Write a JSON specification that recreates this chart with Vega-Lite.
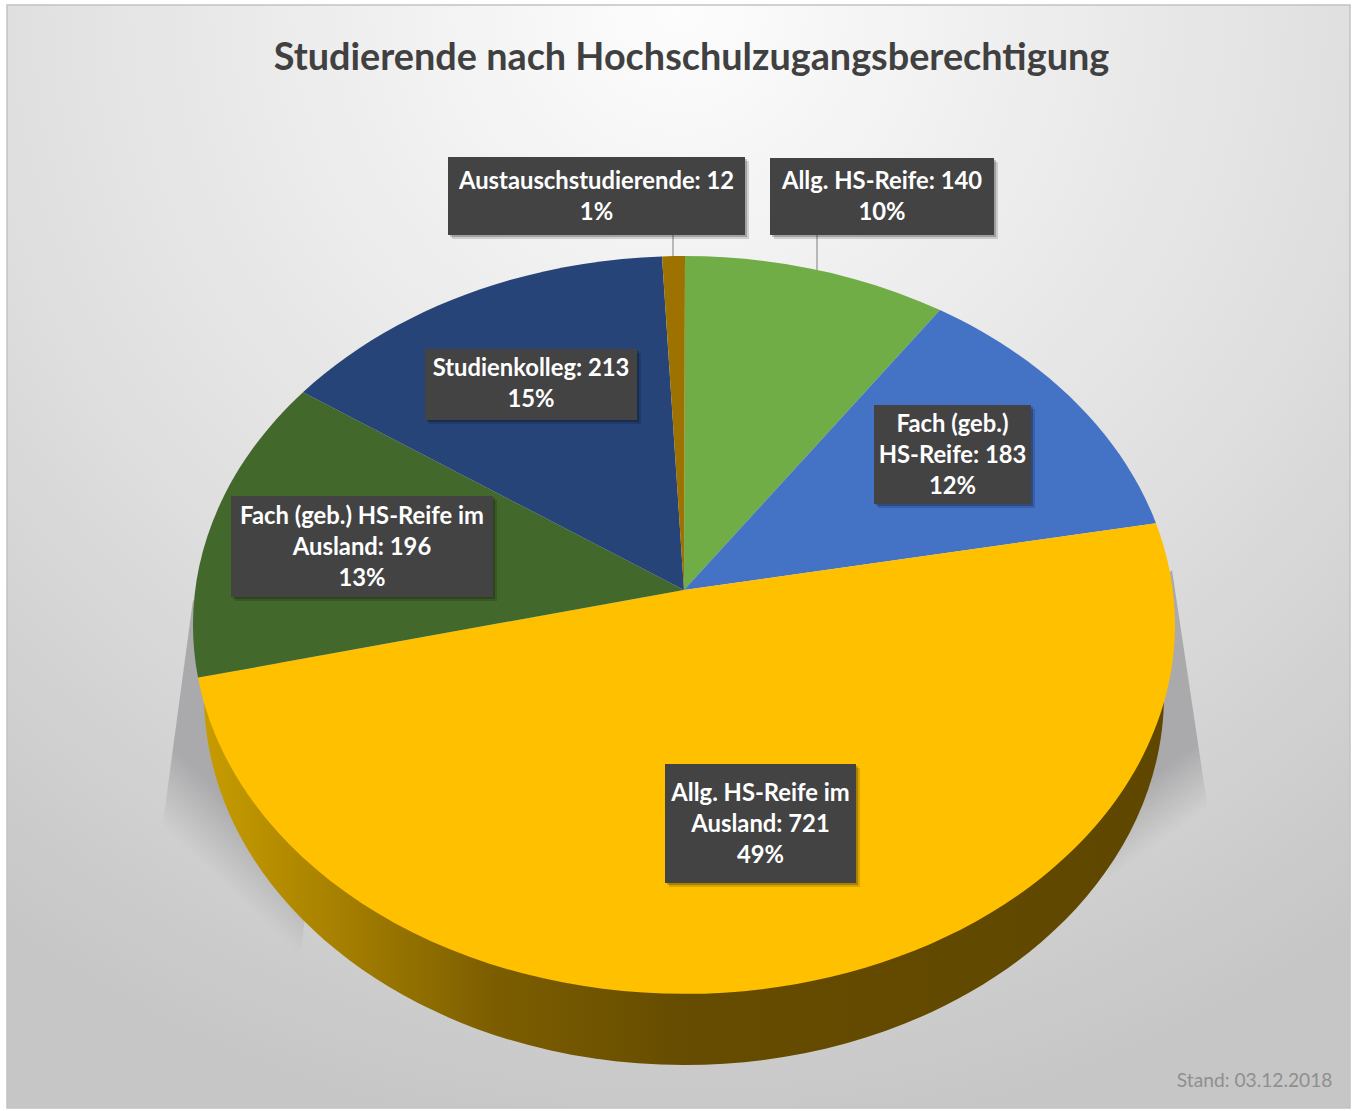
{
"$schema":"https://vega.github.io/schema/vega-lite/v6.json",
"autosize":{"type":"none"},"padding":0,"width":1357,"height":1111,"background":"#ffffff",
"config":{"view":{"stroke":null}},
"title":{"text":"Studierende nach Hochschulzugangsberechtigung","font":"Lato","fontWeight":"bold","fontSize":37.8,"color":"#404040","anchor":"middle","dx":13,"offset":-78},
"datasets":{"slices":[
{"category":"Allg. HS-Reife","value":140,"percent":"10%","text":"Allg. HS-Reife: 140\n10%"},
{"category":"Fach (geb.) HS-Reife","value":183,"percent":"12%","text":"Fach (geb.)\nHS-Reife: 183\n12%"},
{"category":"Allg. HS-Reife im Ausland","value":721,"percent":"49%","text":"Allg. HS-Reife im\nAusland: 721\n49%"},
{"category":"Fach (geb.) HS-Reife im Ausland","value":196,"percent":"13%","text":"Fach (geb.) HS-Reife im\nAusland: 196\n13%"},
{"category":"Studienkolleg","value":213,"percent":"15%","text":"Studienkolleg: 213\n15%"},
{"category":"Austauschstudierende","value":12,"percent":"1%","text":"Austauschstudierende: 12\n1%"}
]},
"data":{"name":"slices"},
"resolve":{"scale":{"shape":"independent","y":"independent"}},
"layer":[
{"data":{"values":[{"part":"background"}]},
 "mark":{"type":"point","filled":true,"size":4,"opacity":1,"stroke":"#c2c2c2","strokeWidth":1.5,"shape":"M-671.5 -550.5 L671.5 -550.5 L671.5 552.5 L-671.5 552.5 Z",
 "fill":{"gradient":"radial","x1":0.5,"y1":0.09,"r1":0,"x2":0.5,"y2":0.09,"r2":0.85,"stops":[{"offset":0,"color":"#fdfdfd"},{"offset":0.58,"color":"#e0e0e0"},{"offset":1,"color":"#c6c6c6"}]}}},
{"data":{"values":[{"part":"shadow left"}]},
 "mark":{"type":"point","filled":true,"size":4,"opacity":1,"shape":"M-485.5 44.5 L-516.5 274.5 L-378.5 404.5 L-348.5 144.5 Z",
 "fill":{"gradient":"linear","x1":0.5,"y1":0.3,"x2":0.3,"y2":0.76,"stops":[{"offset":0,"color":"rgba(170,170,172,1)"},{"offset":0.55,"color":"rgba(170,170,172,1)"},{"offset":1,"color":"rgba(170,170,172,0)"}]}}},
{"data":{"values":[{"part":"shadow right"}]},
 "mark":{"type":"point","filled":true,"size":4,"opacity":1,"shape":"M493.5 14.5 L529.5 254.5 L529.5 304.5 L431.5 404.5 L421.5 94.5 Z",
 "fill":{"gradient":"linear","x1":0.5,"y1":0.3,"x2":0.578,"y2":0.694,"stops":[{"offset":0,"color":"rgba(170,170,172,1)"},{"offset":0.55,"color":"rgba(170,170,172,1)"},{"offset":1,"color":"rgba(170,170,172,0)"}]}}},
{"data":{"values":[{"part":"side"}]},
 "mark":{"type":"point","filled":true,"size":4,"opacity":1,"shape":"M-474.5 139.5 A480 370 0 0 0 485.5 139.5 Z",
 "fill":{"gradient":"linear","x1":0,"y1":0,"x2":1,"y2":0,"stops":[{"offset":0,"color":"#c79c00"},{"offset":0.1,"color":"#b08800"},{"offset":0.3,"color":"#7c5e00"},{"offset":0.5,"color":"#664c00"},{"offset":1,"color":"#5f4700"}]}}},
{"mark":{"type":"point","filled":true,"size":4,"opacity":1},
 "encoding":{
 "color":{"field":"category","type":"nominal","legend":null,"scale":{"domain":["Allg. HS-Reife","Fach (geb.) HS-Reife","Allg. HS-Reife im Ausland","Fach (geb.) HS-Reife im Ausland","Studienkolleg","Austauschstudierende"],"range":["#70ad47","#4472c4","#ffc000","#43682b","#264478","#9e7200"]}},
 "shape":{"field":"category","type":"nominal","legend":null,"scale":{"domain":["Allg. HS-Reife","Fach (geb.) HS-Reife","Allg. HS-Reife im Ausland","Fach (geb.) HS-Reife im Ausland","Studienkolleg","Austauschstudierende"],"range":[
 "M5.5 34.5 L6.5 -299.5 A491 369 0 0 1 261.5 -245.4 Z",
 "M5.5 34.5 L261.5 -245.4 A491 369 0 0 1 477.5 -32.2 Z",
 "M5.5 34.5 L477.5 -32.2 A491 369 0 1 1 -480.5 122.1 Z",
 "M5.5 34.5 L-480.5 122.1 A491 369 0 0 1 -375.5 -163.3 Z",
 "M5.5 34.5 L-375.5 -163.3 A491 369 0 0 1 -16.5 -299.1 Z",
 "M5.5 34.5 L-16.5 -299.1 A491 369 0 0 1 6.5 -299.5 Z"]}}}},
{"data":{"values":[{"part":"leader lines"}]},
 "mark":{"type":"point","filled":true,"size":4,"opacity":1,"fill":"#7f7f7f","shape":"M-6 -320.5 L-5 -320.5 L-5 -299.5 L-6 -299.5 Z M138 -320.5 L139 -320.5 L139 -285.5 L138 -285.5 Z"}},
{"mark":{"type":"point","filled":true,"size":4,"fill":"#000000","opacity":0.14,"xOffset":4,"yOffset":4},
 "encoding":{
 "x":{"field":"value","type":"quantitative","axis":null,"scale":{"domain":[12,140,183,196,213,721],"range":[596.5,882,952.5,362,531,760.5],"zero":false,"nice":false}},
 "y":{"field":"value","type":"quantitative","axis":null,"scale":{"domain":[12,140,183,196,213,721],"range":[196,196.5,454.5,546.5,384.5,823.5],"zero":false,"nice":false}},
 "shape":{"field":"category","type":"nominal","legend":null,"scale":{"domain":["Allg. HS-Reife","Fach (geb.) HS-Reife","Allg. HS-Reife im Ausland","Fach (geb.) HS-Reife im Ausland","Studienkolleg","Austauschstudierende"],"range":[
 "M-112 -38.5 L112 -38.5 L112 38.5 L-112 38.5 Z","M-78.5 -49.5 L78.5 -49.5 L78.5 49.5 L-78.5 49.5 Z","M-95.5 -59.5 L95.5 -59.5 L95.5 59.5 L-95.5 59.5 Z","M-131 -50.5 L131 -50.5 L131 50.5 L-131 50.5 Z","M-106 -35.5 L106 -35.5 L106 35.5 L-106 35.5 Z","M-148.5 -39 L148.5 -39 L148.5 39 L-148.5 39 Z"]}}}},
{"mark":{"type":"point","filled":true,"size":4,"fill":"#000000","opacity":0.22,"xOffset":2,"yOffset":2},
 "encoding":{
 "x":{"field":"value","type":"quantitative","axis":null,"scale":{"domain":[12,140,183,196,213,721],"range":[596.5,882,952.5,362,531,760.5],"zero":false,"nice":false}},
 "y":{"field":"value","type":"quantitative","axis":null,"scale":{"domain":[12,140,183,196,213,721],"range":[196,196.5,454.5,546.5,384.5,823.5],"zero":false,"nice":false}},
 "shape":{"field":"category","type":"nominal","legend":null,"scale":{"domain":["Allg. HS-Reife","Fach (geb.) HS-Reife","Allg. HS-Reife im Ausland","Fach (geb.) HS-Reife im Ausland","Studienkolleg","Austauschstudierende"],"range":[
 "M-112 -38.5 L112 -38.5 L112 38.5 L-112 38.5 Z","M-78.5 -49.5 L78.5 -49.5 L78.5 49.5 L-78.5 49.5 Z","M-95.5 -59.5 L95.5 -59.5 L95.5 59.5 L-95.5 59.5 Z","M-131 -50.5 L131 -50.5 L131 50.5 L-131 50.5 Z","M-106 -35.5 L106 -35.5 L106 35.5 L-106 35.5 Z","M-148.5 -39 L148.5 -39 L148.5 39 L-148.5 39 Z"]}}}},
{"mark":{"type":"point","filled":true,"size":4,"fill":"#434343","opacity":1},
 "encoding":{
 "x":{"field":"value","type":"quantitative","axis":null,"scale":{"domain":[12,140,183,196,213,721],"range":[596.5,882,952.5,362,531,760.5],"zero":false,"nice":false}},
 "y":{"field":"value","type":"quantitative","axis":null,"scale":{"domain":[12,140,183,196,213,721],"range":[196,196.5,454.5,546.5,384.5,823.5],"zero":false,"nice":false}},
 "shape":{"field":"category","type":"nominal","legend":null,"scale":{"domain":["Allg. HS-Reife","Fach (geb.) HS-Reife","Allg. HS-Reife im Ausland","Fach (geb.) HS-Reife im Ausland","Studienkolleg","Austauschstudierende"],"range":[
 "M-112 -38.5 L112 -38.5 L112 38.5 L-112 38.5 Z","M-78.5 -49.5 L78.5 -49.5 L78.5 49.5 L-78.5 49.5 Z","M-95.5 -59.5 L95.5 -59.5 L95.5 59.5 L-95.5 59.5 Z","M-131 -50.5 L131 -50.5 L131 50.5 L-131 50.5 Z","M-106 -35.5 L106 -35.5 L106 35.5 L-106 35.5 Z","M-148.5 -39 L148.5 -39 L148.5 39 L-148.5 39 Z"]}}}},
{"mark":{"type":"text","font":"Lato","fontWeight":"bold","fontSize":23.8,"color":"#ffffff","align":"center","baseline":"middle","lineBreak":"\n","lineHeight":31},
 "encoding":{
 "x":{"field":"value","type":"quantitative","axis":null,"scale":{"domain":[12,140,183,196,213,721],"range":[596.5,882,952.5,362,531,760.5],"zero":false,"nice":false}},
 "y":{"field":"value","type":"quantitative","axis":null,"scale":{"domain":[12,140,183,196,213,721],"range":[182,182,425,516.5,369,794],"zero":false,"nice":false}},
 "text":{"field":"text","type":"nominal"}}},
{"data":{"values":[{"note":"Stand: 03.12.2018"}]},
 "mark":{"type":"text","font":"Lato","fontSize":19.2,"color":"#8f8f8f","align":"right","baseline":"middle","dx":654,"dy":525},
 "encoding":{"text":{"field":"note","type":"nominal"}}}
]
}
